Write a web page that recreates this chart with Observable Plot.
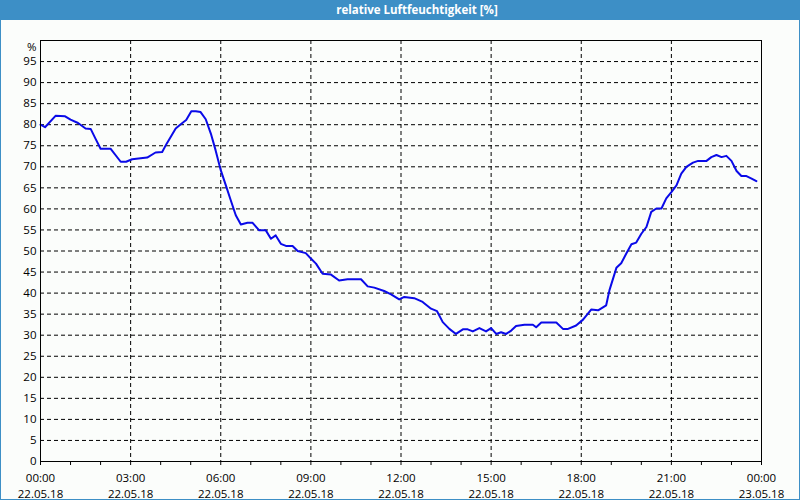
<!DOCTYPE html>
<html><head><meta charset="utf-8">
<script src="https://cdn.jsdelivr.net/npm/d3@7"></script>
<script src="https://cdn.jsdelivr.net/npm/@observablehq/plot@0.6"></script>
<style>
html,body{margin:0;padding:0;background:#fbfdfb;}
#wrap{position:relative;width:800px;height:500px;overflow:hidden;background:#fbfdfb;font-family:"Open Sans",sans-serif;}
#bar{position:absolute;left:0;top:0;width:800px;height:20px;background:#3d8fc6;}
#title{position:absolute;left:417px;top:0;transform:translateX(-50%);line-height:20px;color:#fff;font-weight:bold;font-size:11.5px;white-space:nowrap;}
#chart{position:absolute;left:0;top:20px;}
#border{position:absolute;left:0;top:0;width:800px;height:500px;box-sizing:border-box;border:1px solid #3d8fc6;pointer-events:none;}
</style></head><body>
<div id="wrap"><div id="bar"><div id="title">relative Luftfeuchtigkeit [%]</div></div><div id="chart"></div><div id="border"></div></div>
<script>
const hours = [0, 0.15, 0.5, 0.82, 1.0, 1.25, 1.5, 1.67, 1.83, 2.0, 2.33, 2.67, 2.85, 3.05, 3.55, 3.83, 4.05, 4.2, 4.5, 4.7, 4.85, 5.02, 5.17, 5.33, 5.5, 5.67, 5.83, 6.0, 6.17, 6.33, 6.5, 6.67, 6.89, 7.06, 7.28, 7.5, 7.67, 7.83, 8.0, 8.17, 8.39, 8.56, 8.83, 9.0, 9.17, 9.39, 9.67, 9.94, 10.22, 10.67, 10.89, 11.11, 11.44, 11.67, 11.94, 12.11, 12.44, 12.72, 13.0, 13.2, 13.39, 13.61, 13.83, 14.06, 14.22, 14.39, 14.61, 14.83, 15.0, 15.17, 15.33, 15.5, 15.67, 15.83, 16.11, 16.39, 16.5, 16.67, 17.17, 17.39, 17.56, 17.83, 18.06, 18.33, 18.56, 18.83, 18.94, 19.17, 19.33, 19.5, 19.67, 19.83, 20.0, 20.17, 20.33, 20.5, 20.67, 20.83, 21.0, 21.17, 21.33, 21.5, 21.72, 21.89, 22.17, 22.33, 22.5, 22.67, 22.83, 23.0, 23.17, 23.33, 23.5, 23.67, 23.83];
const humidity = [80.0, 79.4, 82.1, 82.0, 81.2, 80.4, 79.1, 79.0, 76.7, 74.3, 74.3, 71.2, 71.2, 71.8, 72.2, 73.4, 73.5, 75.5, 79.1, 80.3, 81.1, 83.2, 83.2, 83.0, 81.3, 77.9, 73.9, 69.2, 65.6, 62.1, 58.5, 56.3, 56.7, 56.7, 54.9, 54.9, 52.9, 53.7, 51.7, 51.2, 51.2, 50.0, 49.5, 48.2, 47.0, 44.6, 44.4, 43.0, 43.3, 43.3, 41.6, 41.3, 40.5, 39.7, 38.5, 39.1, 38.8, 37.9, 36.3, 35.7, 33.1, 31.5, 30.3, 31.4, 31.4, 30.9, 31.7, 30.9, 31.7, 30.3, 30.7, 30.3, 31.1, 32.2, 32.5, 32.5, 31.9, 33.0, 33.0, 31.5, 31.5, 32.3, 33.7, 36.1, 35.9, 37.1, 40.7, 46.0, 47.1, 49.4, 51.6, 52.0, 54.1, 55.7, 59.3, 60.1, 60.1, 62.5, 64.0, 65.6, 68.4, 70.0, 71.0, 71.4, 71.4, 72.3, 72.8, 72.3, 72.6, 71.4, 69.0, 67.8, 67.8, 67.2, 66.6];
const yTicks = [0,5,10,15,20,25,30,35,40,45,50,55,60,65,70,75,80,85,90,95];
const yGrid = [5,10,15,20,25,30,35,40,45,50,55,60,65,70,75,80,85,90,95];
const hourTicks = [0,1,2,3,4,5,6,7,8,9,10,11,12,13,14,15,16,17,18,19,20,21,22,23,24];
const xLabelHours = [0,3,6,9,12,15,18,21,24];
const xGrid = [3,6,9,12,15,18,21];
const timeLabels = ["00:00","03:00","06:00","09:00","12:00","15:00","18:00","21:00","00:00"];
const dateLabels = ["22.05.18","22.05.18","22.05.18","22.05.18","22.05.18","22.05.18","22.05.18","22.05.18","23.05.18"];

const data = hours.map((h, i) => ({h, v: humidity[i]}));
const labels = xLabelHours.map((h, i) => ({h, t: timeLabels[i] + "\n" + dateLabels[i]}));

const plot = Plot.plot({
  width: 800, height: 480,
  marginTop: 20, marginBottom: 39, marginLeft: 40, marginRight: 39,
  style: {background: "transparent", fontFamily: "Open Sans", fontSize: "11px", color: "#000"},
  x: {domain: [0, 24], axis: null},
  y: {domain: [0, 100], axis: null},
  marks: [
    Plot.ruleY(yGrid, {stroke: "#000", strokeDasharray: "4,3"}),
    Plot.ruleX(xGrid, {stroke: "#000", strokeDasharray: "4,3"}),
    Plot.axisY({ticks: yTicks, tickSize: 0, tickPadding: 4, label: null, fill: "#000", fontSize: 11.5}),
    Plot.axisX({ticks: hourTicks, tickSize: 4, tickFormat: () => "", label: null, stroke: "#000"}),
    Plot.text(labels, {x: "h", text: "t", frameAnchor: "bottom", lineAnchor: "top", dy: 9, lineHeight: 1.4, fill: "#000", fontSize: 11.5}),
    Plot.text(["%"], {frameAnchor: "top-left", dx: -4, dy: 2, textAnchor: "end", fill: "#000", fontSize: 11.5}),
    Plot.line(data, {x: "h", y: "v", stroke: "#0a0ae8", strokeWidth: 2}),
    Plot.frame({stroke: "#000"})
  ]
});
document.getElementById("chart").appendChild(plot);
</script>
</body></html>
